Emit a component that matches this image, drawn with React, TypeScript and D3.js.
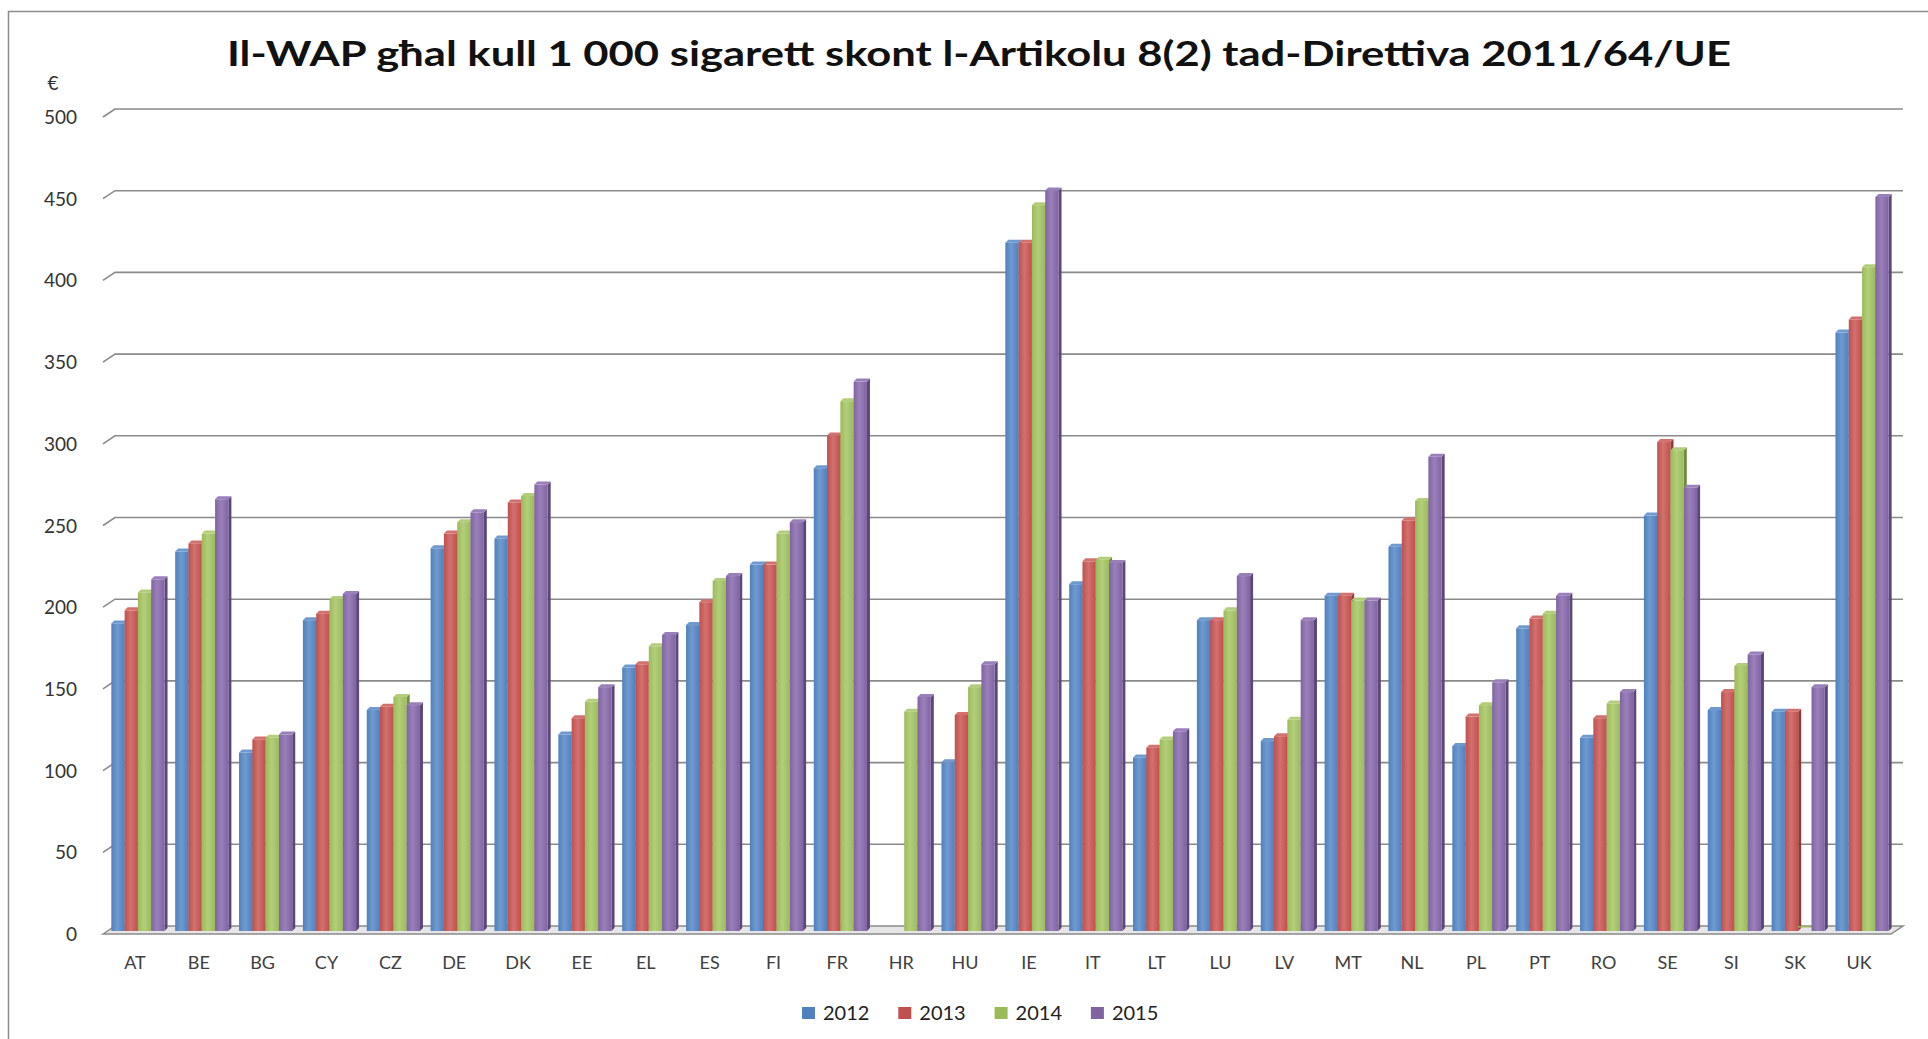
import * as d3 from "d3";

// dati
const countries = ["AT", "BE", "BG", "CY", "CZ", "DE", "DK", "EE", "EL", "ES", "FI", "FR", "HR", "HU", "IE", "IT", "LT", "LU", "LV", "MT", "NL", "PL", "PT", "RO", "SE", "SI", "SK", "UK"];
const years = ["2012", "2013", "2014", "2015"];
const wap2012 = [187, 231, 108, 189, 134, 233, 239, 119, 160, 186, 223, 282, null, 102, 420, 211, 105, 189, 115, 204, 234, 112, 184, 117, 253, 134, 133, 365];
const wap2013 = [195, 236, 116, 193, 136, 242, 261, 129, 162, 200, 223, 302, null, 131, 420, 225, 111, 189, 118, 204, 250, 130, 190, 129, 298, 145, 133, 373];
const wap2014 = [206, 242, 117, 202, 142, 249, 265, 139, 173, 213, 242, 323, 133, 148, 443, 226, 116, 195, 128, 201, 262, 137, 193, 138, 293, 161, 0, 405];
const wap2015 = [214, 263, 119, 205, 137, 255, 272, 148, 180, 216, 249, 335, 142, 162, 452, 224, 121, 216, 189, 201, 289, 151, 204, 145, 270, 168, 148, 448];
const yTicks = [0, 50, 100, 150, 200, 250, 300, 350, 400, 450, 500];

const series = [wap2012, wap2013, wap2014, wap2015];
const front = ["#4F81BD", "#C0504D", "#9BBB59", "#8064A2"];
const light = ["#6F9AD0", "#D2716E", "#B3CE7A", "#9A80BA"];
const side = ["#385E8D", "#8D3A38", "#718A41", "#5C4878"];

const W = 1928;
const H = 1039;
const DX = 12; // profondità 3D
const DY = 8;
const wallLeft = 115;
const wallRight = 1903;

const App = () => {
  const y = d3.scaleLinear().domain([0, 500]).range([926, 109]);
  const x = d3.scaleBand().domain(countries).range([106, 1894]).paddingInner(0).paddingOuter(0);
  const bw = x.bandwidth();
  const barW = 13.3;
  const groupOff = (bw - barW * 4) / 2;
  const base = y(0) + 5;
  const cap = 3;

  return (
    <svg width={W} height={H} style={{ position: "absolute", left: 0, top: 0, display: "block", background: "#fff" }}>
      <defs>
        {front.map((c, i) => (
          <linearGradient key={i} id={`g${i}`} x1="0" x2="1" y1="0" y2="0">
            <stop offset="0" stopColor={c} />
            <stop offset="0.45" stopColor={light[i]} />
            <stop offset="1" stopColor={c} />
          </linearGradient>
        ))}
      </defs>
      <rect x={8.5} y={11.5} width={1940} height={1050} fill="none" stroke="#8c8c8c" strokeWidth={1.5} />
      <text
        x={979}
        y={66}
        textAnchor="middle"
        fontFamily="Lato, 'Open Sans', sans-serif"
        fontWeight="bold"
        fontSize={35}
        fill="#111"
        textLength={1504}
        lengthAdjust="spacingAndGlyphs"
      >
        Il-WAP għal kull 1 000 sigarett skont l-Artikolu 8(2) tad-Direttiva 2011/64/UE
      </text>
      <text x={53} y={90} textAnchor="middle" fontFamily="Lato, sans-serif" fontSize={19} fill="#333">€</text>

      {/* pavimento */}
      <polygon
        points={`${wallLeft - DX},${y(0) + DY} ${wallLeft},${y(0)} ${wallRight},${y(0)} ${wallRight - DX},${y(0) + DY}`}
        fill="#e6e6e6"
        stroke="#8a8a8a"
        strokeWidth={1.5}
      />
      {/* griglia */}
      {yTicks.map((t) => (
        <g key={t}>
          {t > 0 && (
            <polyline
              points={`${wallLeft - DX},${y(t) + DY} ${wallLeft},${y(t)} ${wallRight},${y(t)}`}
              fill="none"
              stroke="#8a8a8a"
              strokeWidth={1.6}
            />
          )}
          <text x={77} y={y(t) + DY + 7} textAnchor="end" fontFamily="Lato, sans-serif" fontSize={19} fill="#333">
            {t}
          </text>
        </g>
      ))}

      {/* barre */}
      {countries.map((c, ci) => (
        <g key={c}>
          {series.map((s, si) => {
            const v = s[ci];
            if (v === null) return null;
            const x0 = (x(c) as number) + groupOff + si * barW;
            const top = Math.min(y(v), base - 1.5);
            if (v === 0) {
              return <rect key={si} x={x0} y={top} width={barW + 2} height={1.5} fill={front[si]} />;
            }
            return (
              <g key={si}>
                <polygon
                  points={`${x0 + barW},${top + cap} ${x0 + barW + cap},${top} ${x0 + barW + cap},${base - cap} ${x0 + barW},${base}`}
                  fill={side[si]}
                />
                <polygon
                  points={`${x0},${top + cap} ${x0 + cap},${top} ${x0 + barW + cap},${top} ${x0 + barW},${top + cap}`}
                  fill={light[si]}
                />
                <rect x={x0} y={top + cap} width={barW} height={base - top - cap} fill={`url(#g${si})`} />
              </g>
            );
          })}
          <text
            x={(x(c) as number) + bw / 2 - 3}
            y={969}
            textAnchor="middle"
            fontFamily="Lato, sans-serif"
            fontSize={18}
            fill="#404040"
          >
            {c}
          </text>
        </g>
      ))}

      {/* legenda */}
      {years.map((yr, i) => (
        <g key={yr} transform={`translate(${802 + i * 96.3},0)`}>
          <rect x={0} y={1007} width={13} height={12} fill={front[i]} />
          <text x={21} y={1020} fontFamily="Lato, sans-serif" fontSize={20} fill="#222">
            {yr}
          </text>
        </g>
      ))}
    </svg>
  );
};

export default App;
